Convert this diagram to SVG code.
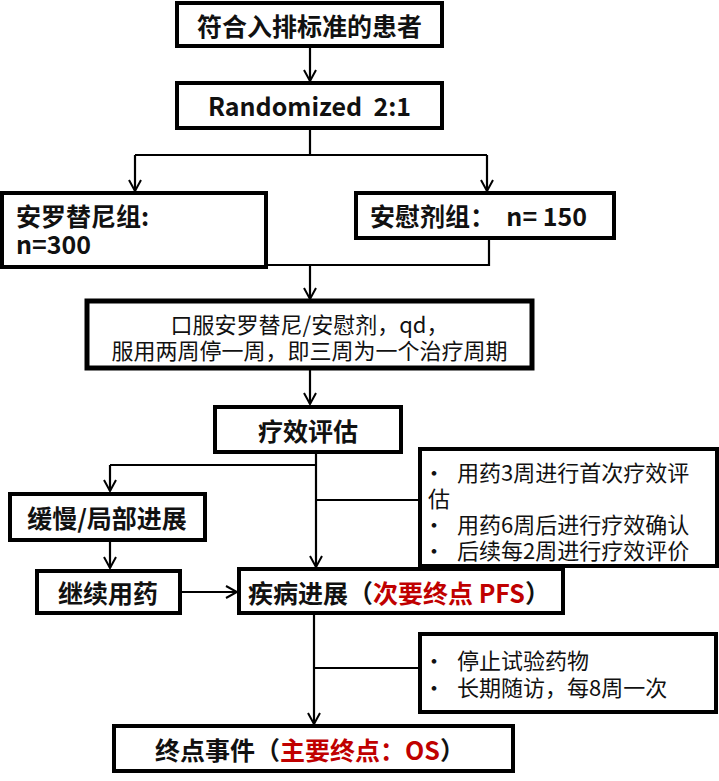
<svg xmlns="http://www.w3.org/2000/svg" width="719" height="781" viewBox="0 0 719 781">
<defs>
<marker id="arr" markerWidth="14" markerHeight="14" refX="12" refY="7" orient="auto" markerUnits="userSpaceOnUse">
<path d="M1,1 L12,7 L1,13" fill="none" stroke="#000" stroke-width="2"/>
</marker>
<style>
.box{fill:#fff;stroke:#000;stroke-width:4}
.thick{stroke-width:5}
.ln{fill:none;stroke:#000;stroke-width:2.2}
.t{font-family:"Noto Sans CJK SC","Noto Sans",sans-serif;font-weight:bold;font-size:25px;fill:#111;dominant-baseline:central}
.n{font-family:"Noto Sans CJK SC","Noto Sans",sans-serif;font-size:22px;fill:#111;dominant-baseline:central}
.r{fill:#C00000}
</style>
</defs>
<g id="connectors">
<path class="ln" d="M310,47 V81" marker-end="url(#arr)"/>
<path class="ln" d="M310,129 V155 M135,155 H487"/>
<path class="ln" d="M135,155 V191" marker-end="url(#arr)"/>
<path class="ln" d="M487,155 V191" marker-end="url(#arr)"/>
<path class="ln" d="M137,250 V266 M137,265 H489 M489,239 V266"/>
<path class="ln" d="M310,265 V299" marker-end="url(#arr)"/>
<path class="ln" d="M310,369 V404" marker-end="url(#arr)"/>
<path class="ln" d="M316,453 V567" marker-end="url(#arr)"/>
<path class="ln" d="M316,465 H110"/>
<path class="ln" d="M110,465 V491" marker-end="url(#arr)"/>
<path class="ln" d="M316,500 H420"/>
<path class="ln" d="M110,541 V568" marker-end="url(#arr)"/>
<path class="ln" d="M182,592 H237" marker-end="url(#arr)"/>
<path class="ln" d="M314,614 V724" marker-end="url(#arr)"/>
<path class="ln" d="M314,668 H420"/>
</g>
<g id="n1"><rect class="box" x="177" y="3" width="265" height="43"/><text class="t" x="309.5" y="25" text-anchor="middle">符合入排标准的患者</text></g>
<g id="n2"><rect class="box" x="177" y="83" width="265" height="45"/><text class="t" x="309.5" y="105" text-anchor="middle" xml:space="preserve">Randomized  2:1</text></g>
<g id="n3"><rect class="box" x="2" y="193" width="264" height="74"/><text class="t" x="16" y="215">安罗替尼组:</text><text class="t" x="16" y="243">n=300</text></g>
<g id="n4"><rect class="box" x="356" y="193" width="258" height="45"/><text class="t" x="370" y="215" xml:space="preserve">安慰剂组：  n= 150</text></g>
<g id="n5"><rect class="box thick" x="87" y="301" width="445" height="67"/><text class="n" x="309.5" y="323" text-anchor="middle">口服安罗替尼/安慰剂，qd，</text><text class="n" x="309.5" y="349" text-anchor="middle">服用两周停一周，即三周为一个治疗周期</text></g>
<g id="n6"><rect class="box" x="215" y="407" width="186" height="45"/><text class="t" x="308" y="430" text-anchor="middle">疗效评估</text></g>
<g id="n7"><rect class="box" x="420" y="449" width="297" height="117"/><text class="n" x="423" y="471">•</text><text class="n" x="457" y="471">用药3周进行首次疗效评</text><text class="n" x="428" y="497">估</text><text class="n" x="423" y="523">•</text><text class="n" x="457" y="523">用药6周后进行疗效确认</text><text class="n" x="423" y="549">•</text><text class="n" x="457" y="549">后续每2周进行疗效评价</text></g>
<g id="n8"><rect class="box" x="10" y="494" width="195" height="46"/><text class="t" x="107" y="517" text-anchor="middle">缓慢/局部进展</text></g>
<g id="n9"><rect class="box" x="37" y="571" width="143" height="42"/><text class="t" x="108" y="592" text-anchor="middle">继续用药</text></g>
<g id="n10"><rect class="box" x="239" y="569" width="324" height="44"/><text class="t" x="248" y="592">疾病进展（<tspan class="r">次要终点 PFS</tspan>）</text></g>
<g id="n11"><rect class="box" x="420" y="634" width="296" height="78"/><text class="n" x="423" y="659">•</text><text class="n" x="457" y="659">停止试验药物</text><text class="n" x="423" y="686">•</text><text class="n" x="457" y="686">长期随访，每8周一次</text></g>
<g id="n12"><rect class="box" x="114" y="726" width="399" height="45"/><text class="t" x="155" y="749">终点事件（<tspan class="r">主要终点：OS</tspan>）</text></g>
</svg>
